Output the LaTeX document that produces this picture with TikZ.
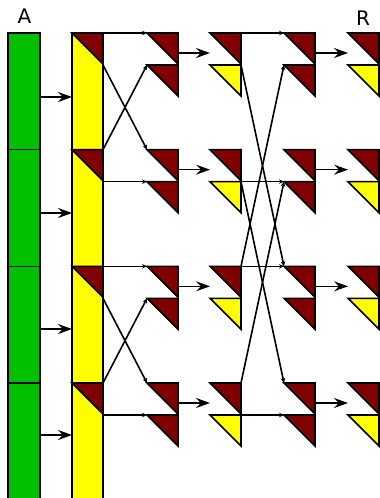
\documentclass[tikz,border=0pt]{standalone}
\usepackage{fontspec}
\newfontfamily\labelfont{DejaVu Sans}
\usetikzlibrary{arrows.meta}
\definecolor{grn}{RGB}{0,192,0}
\definecolor{ylw}{RGB}{255,255,0}
\definecolor{dred}{RGB}{128,0,0}
\begin{document}
\begin{tikzpicture}[x=1pt,y=-1pt,line width=1.6pt,
  greenbox/.style={fill=grn,draw=black},
  yellowbox/.style={fill=ylw,draw=black},
  redtri/.style={fill=dred,draw=black},
  yeltri/.style={fill=ylw,draw=black},
  bigarrow/.style={draw=black,line width=1.6pt,-{Stealth[length=14pt,width=10pt,inset=5pt]}},
  smallarrow/.style={draw=black,line width=1.6pt,-{Stealth[length=5pt,width=4.5pt]}},
  lbl/.style={font=\labelfont\fontsize{20}{20}\selectfont,anchor=base,inner sep=0pt}]
\useasboundingbox (0,0) rectangle (380,498);
\clip (0,0) rectangle (380,498);
% columns
\foreach \r/\T in {1/33,2/149.67,3/266.33,4/383}{
  \path[greenbox] (8,\T) rectangle (40,\T+116.67);
}
\path[yellowbox] (72,33) rectangle (103,510);
\foreach \r/\T/\G in {1/33/97,2/149.67/213,3/266.33/329,4/383/435}{
  % triangles
  \path[redtri] (72,\T) -- ++(31,0) -- ++(0,31) -- cycle;
  \path[redtri] (147,\T) -- ++(31,0) -- ++(0,31) -- cycle;
  \path[redtri] (147,\T+32) -- ++(31,0) -- ++(0,31) -- cycle;
  \path[redtri] (210,\T) -- ++(31,0) -- ++(0,31) -- cycle;
  \path[yeltri] (210,\T+32) -- ++(31,0) -- ++(0,31) -- cycle;
  \path[redtri] (284,\T) -- ++(31,0) -- ++(0,31) -- cycle;
  \path[redtri] (284,\T+32) -- ++(31,0) -- ++(0,31) -- cycle;
  \path[redtri] (348,\T) -- ++(31,0) -- ++(0,31) -- cycle;
  \path[yeltri] (348,\T+32) -- ++(31,0) -- ++(0,31) -- cycle;
  % connection points
  \coordinate (Ga\r) at (40,\G);
  \coordinate (Ya\r) at (72,\G);
  \coordinate (Yt\r) at (103,\T);
  \coordinate (Ym\r) at (103,\T+32);
  \coordinate (Bt\r) at (147,\T);
  \coordinate (Bm\r) at (147,\T+32);
  \coordinate (Ba\r) at (178,\T+20);
  \coordinate (Ca\r) at (210,\T+20);
  \coordinate (Ct\r) at (241,\T);
  \coordinate (Cm\r) at (241,\T+32);
  \coordinate (Dt\r) at (284,\T);
  \coordinate (Dm\r) at (284,\T+32);
  \coordinate (Da\r) at (315,\T+20);
  \coordinate (Ea\r) at (348,\T+20);
}
% big arrows
\foreach \r in {1,2,3,4}{
  \draw[bigarrow] (Ga\r) -- (Ya\r);
  \draw[bigarrow] (Ba\r) -- (Ca\r);
  \draw[bigarrow] (Da\r) -- (Ea\r);
}
% stage 1
\draw[smallarrow] (Yt1) -- (Bt1);
\draw[smallarrow] (Ym1) -- (Bt2);
\draw[smallarrow] (Yt2) -- (Bm1);
\draw[smallarrow] (Ym2) -- (Bm2);
\draw[smallarrow] (Yt3) -- (Bt3);
\draw[smallarrow] (Ym3) -- (Bt4);
\draw[smallarrow] (Yt4) -- (Bm3);
\draw[smallarrow] (Ym4) -- (Bm4);
% stage 2
\draw[smallarrow] (Ct1) -- (Dt1);
\draw[smallarrow] (Cm1) -- (Dt3);
\draw[smallarrow] (Ct3) -- (Dm1);
\draw[smallarrow] (Ct3) -- (Dt3);
\draw[smallarrow] (Cm2) -- (Dm2);
\draw[smallarrow] (Cm2) -- (Dt4);
\draw[smallarrow] (Ct4) -- (Dm2);
\draw[smallarrow] (Cm4) -- (Dm4);
% labels
\node[lbl] (labA) at (24.5,23.5) {A};
\node[lbl] (labR) at (363,25) {R};
\end{tikzpicture}
\end{document}
